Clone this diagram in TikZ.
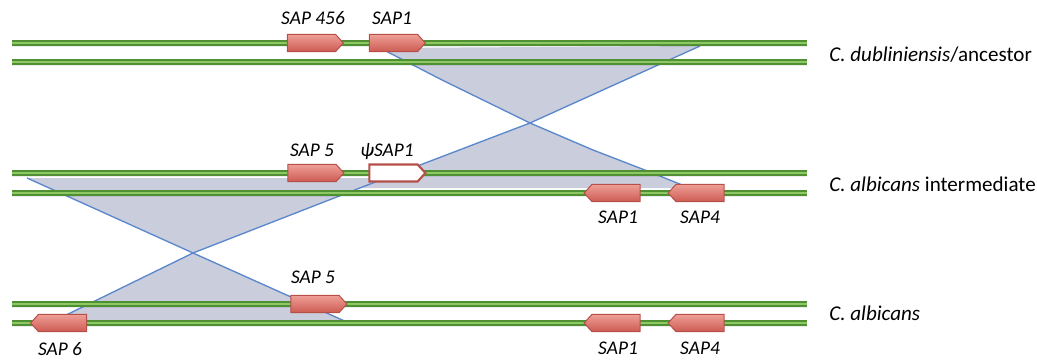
\documentclass[tikz,border=0pt]{standalone}
\usepackage{fontspec}
\setmainfont{Carlito}
\usetikzlibrary{shapes.symbols}
\definecolor{chromdark}{HTML}{4E9032}
\definecolor{chromlight}{HTML}{8DC865}
\definecolor{genetop}{HTML}{EE9F96}
\definecolor{genebot}{HTML}{CD5B53}
\definecolor{genedraw}{HTML}{B54F48}
\definecolor{regfill}{HTML}{C9CDDC}
\definecolor{regline}{HTML}{5B88CC}
\begin{document}
\begin{tikzpicture}[x=0.75pt,y=-0.75pt,
  chrom/.style={line width=3.9pt, draw=chromdark},
  chromc/.style={line width=1.1pt, draw=chromlight},
  chromsh/.style={line width=3pt, draw=black, opacity=0.07},
  region/.style={fill=regfill, draw=none},
  regedge/.style={draw=regline, line width=1pt, line join=round},
  gene/.style={signal, draw=genedraw, line width=0.75pt, top color=genetop, bottom color=genebot,
    minimum width=42pt, minimum height=12.8pt, inner sep=0pt, outer sep=0pt, signal pointer angle=95},
  pseudogene/.style={gene, top color=white, bottom color=white, line width=1.6pt},
  genelabel/.style={font=\fontsize{14.5pt}{16pt}\selectfont\itshape, anchor=base, inner sep=0pt},
  specieslabel/.style={font=\fontsize{15.8pt}{18pt}\selectfont, anchor=base west, inner sep=0pt}
]
\useasboundingbox (0,0) rectangle (1037,360);

% crossover regions
\coordinate (TLa) at (380,48);
\coordinate (TRa) at (700,46);
\coordinate (Xa) at (530,123);
\coordinate (BRa) at (687,187);
\coordinate (Ma) at (365,186);
\coordinate (TLb) at (27,178);
\coordinate (Xb) at (193,253);
\coordinate (BLb) at (58,319);
\coordinate (BRb) at (349,323);

\fill[region] (TLa) -- (TRa) -- (Xa) -- (442,80) -- cycle;
\fill[region] (Xa) -- (593,150) -- (650,172) -- (BRa) -- (687,188) -- (360,188) -- (Ma) -- cycle;
\fill[region] (TLb) -- (386,178) -- (Ma) -- (Xb) -- cycle;
\fill[region] (Xb) -- (BLb) -- (58,321) -- (BRb) -- cycle;

\draw[regedge] (TLa) -- (442,80) -- (Xa) -- (593,150) -- (650,172) -- (BRa);
\draw[regedge] (TRa) -- (Xa) -- (Ma) -- (Xb) -- (BLb);
\draw[regedge] (TLb) -- (Xb) -- (BRb);

% chromosomes
\foreach \y in {43,62,173,193,304,323}{
  \coordinate (cl\y) at (12,\y);
  \coordinate (cr\y) at (807,\y);
  \draw[chromsh] ([yshift=-1.6pt]cl\y) -- ([yshift=-1.6pt]cr\y);
  \draw[chrom] (cl\y) -- (cr\y);
  \draw[chromc] (cl\y) -- (cr\y);
}

% genes
\node[gene, signal to=east] (g456) at (311.5,43) {};
\node[gene, signal to=east] (g1a) at (393.5,43) {};
\node[gene, signal to=east] (g5b) at (312,173) {};
\node[pseudogene, signal to=east] (gpsi) at (393.5,173) {};
\node[gene, signal to=west] (g1b) at (616,193) {};
\node[gene, signal to=west] (g4b) at (700,193) {};
\node[gene, signal to=east] (g5c) at (315,304) {};
\node[gene, signal to=west] (g6c) at (62.5,323) {};
\node[gene, signal to=west] (g1c) at (616,323) {};
\node[gene, signal to=west] (g4c) at (700,323) {};

% gene labels
\node[genelabel] (l456) at (313,25) {SAP 456};
\node[genelabel] (l1a) at (392,25) {SAP1};
\node[genelabel] (l5b) at (312,156) {SAP 5};
\node[genelabel] (lpsi) at (387,156) {ψSAP1};
\node[genelabel] (l1b) at (618,223) {SAP1};
\node[genelabel] (l4b) at (700,223) {SAP4};
\node[genelabel] (l5c) at (313,283) {SAP 5};
\node[genelabel] (l6c) at (60,355) {SAP 6};
\node[genelabel] (l1c) at (618,354) {SAP1};
\node[genelabel] (l4c) at (700,354) {SAP4};

% species labels
\node[specieslabel] (s1) at (829,61) {\textit{C. dubliniensis}/ancestor};
\node[specieslabel] (s2) at (829,191) {\textit{C. albicans} intermediate};
\node[specieslabel] (s3) at (829,320) {\textit{C. albicans}};
\end{tikzpicture}
\end{document}
